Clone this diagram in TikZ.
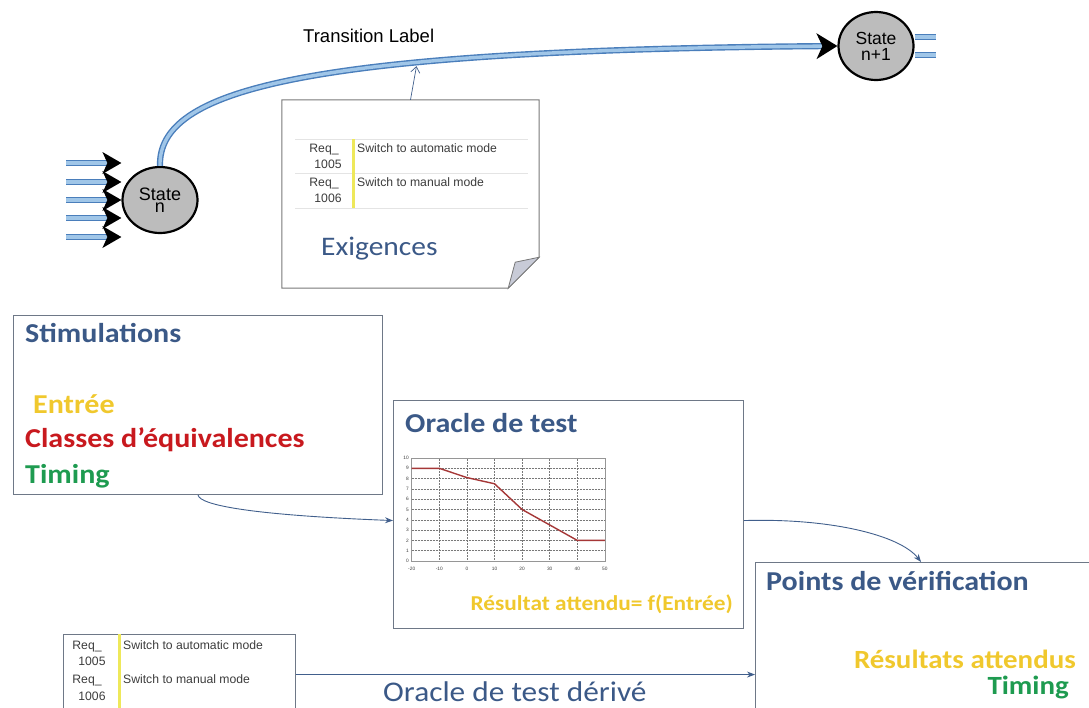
\documentclass[tikz,border=0pt]{standalone}
\usepackage{fontspec}
\setmainfont{Carlito}[FakeStretch=1.1]
\newfontfamily\arialfont{Liberation Sans}
\usetikzlibrary{shapes.geometric,arrows.meta,decorations.markings}

\definecolor{titleblue}{RGB}{59,89,135}
\definecolor{goldtxt}{RGB}{240,200,45}
\definecolor{redtxt}{RGB}{200,25,30}
\definecolor{greentxt}{RGB}{30,155,80}
\definecolor{boxline}{RGB}{110,120,135}
\definecolor{flowout}{RGB}{74,126,187}
\definecolor{flowin}{RGB}{160,198,232}
\definecolor{linkcol}{RGB}{65,95,140}
\definecolor{reqbar}{RGB}{238,232,90}
\definecolor{reqgray}{RGB}{60,60,60}
\definecolor{notegray}{RGB}{120,120,120}
\definecolor{gridgray}{RGB}{120,120,120}
\definecolor{framegray}{RGB}{150,150,150}
\definecolor{rulegray}{RGB}{228,228,228}
\definecolor{flapfill}{RGB}{200,203,215}
\definecolor{statefill}{RGB}{188,188,188}
\definecolor{plotred}{RGB}{165,55,55}

\tikzset{
	statenode/.style={ellipse, draw=black, line width=2.2pt, fill=statefill, inner sep=0pt, align=center},
	flow/.style={draw=flowout, double=flowin, line width=1.4pt, double distance=3.4pt},
	blackhead/.style={postaction={decorate}, decoration={markings, mark=at position 1 with {\fill[black] (-19pt,-11pt) -- (0pt,0pt) -- (-19pt,11pt) -- (-14pt,0pt) -- cycle;}}},
	bighead/.style={postaction={decorate}, decoration={markings, mark=at position 1 with {\fill[black] (-21pt,-13pt) -- (0pt,0pt) -- (-21pt,13pt) -- (-15pt,0pt) -- cycle;}}},
	panel/.style={draw=boxline, line width=1.1pt, inner sep=0pt, anchor=north west},
	link/.style={draw=linkcol, line width=0.9pt, -{Stealth[length=8pt,width=6pt]}},
	boldtxt/.style={font=\bfseries\fontsize{27.3}{32}\selectfont, anchor=base west, inner sep=0pt},
	reqtxt/.style={font=\arialfont\fontsize{12.2}{14}\selectfont, text=reqgray, inner sep=0pt, anchor=base west},
	ticktxt/.style={font=\arialfont\fontsize{4.8}{5}\selectfont, text=reqgray, inner sep=0pt}
}

\begin{document}
\begin{tikzpicture}[x=1pt,y=-1pt]
	\useasboundingbox (0,0) rectangle (1089,707);
	\clip (0,0) rectangle (1089,707);

	% states
	\node[statenode, minimum width=75pt, minimum height=66pt, font=\arialfont\fontsize{18}{11.5}\selectfont] (sn) at (160,200) {State\\n};
	\node[statenode, minimum width=75pt, minimum height=68pt, font=\arialfont\fontsize{17.5}{16}\selectfont] (sn1) at (876,46) {State\\n+1};

	\foreach \i / \y in {1/163, 2/182, 3/200, 4/218, 5/237}
	{
		\coordinate (in\i) at (66,\y);
		\draw[flow, blackhead, shorten >=8pt] (in\i) -- (in\i -| sn.west);
	};
	\foreach \i / \y in {1/37, 2/55}
	{
		\coordinate (out\i) at (936,\y);
		\draw[flow] (sn1.east |- out\i) -- (out\i);
	};

	\draw[flow, bighead, shorten >=8pt] (sn.north) .. controls (158,90) and (300,50) .. (sn1.west) coordinate[pos=0.66] (lbl);
	\node[font=\arialfont\fontsize{18.5}{20}\selectfont, anchor=base west, inner sep=0pt] (tlabel) at (303,42) {Transition Label};

	% exigences
	\node[minimum width=257pt, minimum height=188pt, inner sep=0pt] (req) at (410.5,194) {};
	\draw[draw=notegray, line width=1pt, fill=white] (req.north west) -- (req.north east) -- ([yshift=31pt]req.south east) -- ([xshift=-31pt]req.south east) -- (req.south west) -- cycle;
	\draw[draw=notegray, fill=flapfill, line width=0.8pt] ([yshift=31pt]req.south east) -- ([xshift=-24pt,yshift=26pt]req.south east) -- ([xshift=-31pt]req.south east) -- cycle;
	\draw[draw=linkcol, line width=0.7pt, -{Straight Barb[length=6pt,width=9pt]}] (req.north) -- ([yshift=-3.5pt]lbl);

	\foreach \y in {139,173,208}
	{
		\draw[rulegray, line width=0.8pt] (295,\y) -- (528,\y);
	};
	\draw[reqbar, line width=3pt] (353,139) -- (353,208);
	\node[reqtxt, anchor=base] (ra1) at (324,152) {Req\_};
	\node[reqtxt, anchor=base] (rb1) at (328,168) {1005};
	\node[reqtxt, anchor=base] (ra2) at (324,186) {Req\_};
	\node[reqtxt, anchor=base] (rb2) at (328,202) {1006};
	\node[reqtxt] (rt1) at (357,152) {Switch to automatic mode};
	\node[reqtxt] (rt2) at (357,186) {Switch to manual mode};
	\node[font=\fontsize{26.8}{32}\selectfont, text=titleblue, anchor=base west, inner sep=0pt] (exig) at (321,255) {Exigences};

	% stimulations
	\node[panel, minimum width=369pt, minimum height=179pt] (stim) at (13,315) {};
	\node[boldtxt, text=titleblue] (stimt) at (25,342) {Stimulations};
	\node[boldtxt, text=goldtxt] (entree) at (33,413) {Entrée};
	\node[boldtxt, text=redtxt] (classes) at (25,447) {Classes d’équivalences};
	\node[boldtxt, text=greentxt] (timing) at (25,483) {Timing};

	% oracle
	\node[panel, minimum width=350pt, minimum height=228pt] (oracle) at (393,400) {};
	\node[boldtxt, text=titleblue] (oraclet) at (405,432) {Oracle de test};
	\begin{scope}[shift={(466.9,561)}, x=2.76pt, y=10.3pt]
		\fill[white] (-20,0) rectangle (50,10);
		\foreach \gx in {-10,0,...,40}
			\draw[densely dotted, gridgray, line width=0.5pt] (\gx,0) -- (\gx,10);
		\foreach \gy in {1,...,9}
			\draw[densely dotted, gridgray, line width=0.5pt] (-20,\gy) -- (50,\gy);
		\draw[framegray, line width=0.6pt] (-20,0) rectangle (50,10);
		\draw[plotred, line width=1.4pt] (-20,9) -- (-10,9) -- (0,8.1) -- (10,7.5) -- (20,5) -- (30,3.5) -- (40,2) -- (50,2);
		\foreach \gx in {-20,-10,...,50}
			\node[ticktxt] (xt\gx) at (\gx,-0.75) {\gx};
		\foreach \gy in {0,...,10}
			\node[ticktxt, anchor=east] (yt\gy) at (-21,\gy) {\gy};
	\end{scope}
	\node[boldtxt, anchor=base east, font=\bfseries\fontsize{21.2}{26}\selectfont, text=goldtxt] (result) at (733,610) {Résultat attendu= f(Entrée)};

	% points de verification
	\node[panel, minimum width=345pt, minimum height=160pt] (points) at (755,562) {};
	\node[boldtxt, text=titleblue] (pointst) at (766,590) {Points de vérification};
	\node[boldtxt, anchor=base east, font=\bfseries\fontsize{26.3}{30}\selectfont, text=goldtxt] (results) at (1076,668) {Résultats attendus};
	\node[boldtxt, anchor=base east, font=\bfseries\fontsize{26.3}{30}\selectfont, text=greentxt] (timing2) at (1069,694) {Timing};

	% derived oracle
	\node[panel, minimum width=232pt, minimum height=80pt] (reqlist) at (63,634) {};
	\draw[reqbar, line width=3pt] (119,634) -- (119,710);
	\node[reqtxt, anchor=base] (la1) at (87,649) {Req\_};
	\node[reqtxt, anchor=base] (lb1) at (92,665) {1005};
	\node[reqtxt, anchor=base] (la2) at (87,683) {Req\_};
	\node[reqtxt, anchor=base] (lb2) at (92,700) {1006};
	\node[reqtxt] (lt1) at (123,649) {Switch to automatic mode};
	\node[reqtxt] (lt2) at (123,683) {Switch to manual mode};
	\node[font=\fontsize{28.5}{32}\selectfont, text=titleblue, anchor=base west, inner sep=0pt] (derive) at (383,701) {Oracle de test dérivé};

	% links
	\draw[link] (stim.south) .. controls (200,505) and (250,515) .. ([yshift=-6pt]oracle.west);
	\draw[link] ([yshift=-6pt]oracle.east) .. controls (830,518) and (900,535) .. ([xshift=-7pt]points.north);
	\draw[link] (reqlist.east) -- (reqlist.east -| points.west);
\end{tikzpicture}
\end{document}
